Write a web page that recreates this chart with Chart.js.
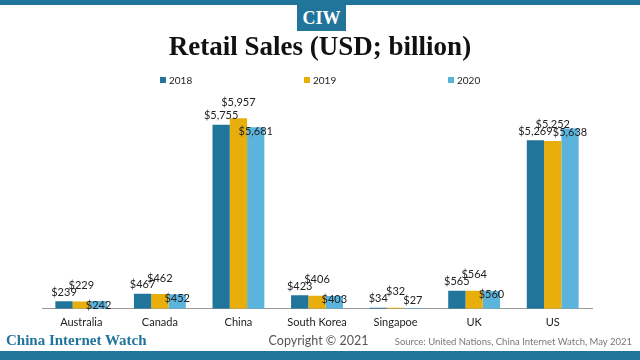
<!DOCTYPE html>
<html>
<head>
<meta charset="utf-8">
<script src="https://cdn.jsdelivr.net/npm/chart.js@4"></script>
<style>
  html, body { margin: 0; padding: 0; background: #fff; }
  #wrap { position: relative; width: 640px; height: 360px; overflow: hidden; }
  #chart { position: absolute; left: 0; top: 0; }
  .topbar { position: absolute; left: 0; top: 0; width: 640px; height: 5px; background: #21759b; }
  .botbar { position: absolute; left: 0; top: 351px; width: 640px; height: 9px; background: #21759b; }
  .logo { position: absolute; left: 297px; top: 5px; width: 49px; height: 26px; background: #21759b;
          color: #fff; font: bold 18px "Liberation Serif", serif; text-align: center; line-height: 27px; }
  .title { position: absolute; left: 0; top: 31px; width: 640px; text-align: center;
           font: bold 27px "Liberation Serif", serif; color: #111; }
  .brand { position: absolute; left: 6px; top: 332px; font: bold 15px "Liberation Serif", serif; color: #21759b; }
  .copy { position: absolute; left: 0; top: 333px; width: 637px; text-align: center; font: 12.5px Lato, sans-serif; color: #555; }
  .src { position: absolute; right: 8px; top: 336px; font: 9.5px Lato, sans-serif; color: #777; }
</style>
</head>
<body>
<div id="wrap">
  <canvas id="chart" width="640" height="360"></canvas>
  <div class="topbar"></div>
  <div class="logo">CIW</div>
  <div class="title">Retail Sales (USD; billion)</div>
  <div class="brand">China Internet Watch</div>
  <div class="copy">Copyright © 2021</div>
  <div class="src">Source: United Nations, China Internet Watch, May 2021</div>
  <div class="botbar"></div>
</div>
<script>
var paises = ["Australia", "Canada", "China", "South Korea", "Singapoe", "UK", "US"];
var anos = ["2018", "2019", "2020"];
var vendas2018 = [239, 467, 5755, 423, 34, 565, 5269];
var vendas2019 = [229, 462, 5957, 406, 32, 564, 5252];
var vendas2020 = [242, 452, 5681, 403, 27, 560, 5638];
var cores = ['#21759b', '#e8ae0c', '#5ab4dc'];

function fmt(v) {
    return '$' + v.toLocaleString('en-US');
}

// labels over the bars, each year placed a bit differently like the original
var rotulos = {
    id: 'rotulos',
    afterDatasetsDraw: function (chart) {
        var ctx = chart.ctx;
        ctx.save();
        ctx.font = '11px Lato, sans-serif';
        ctx.textAlign = 'center';
        ctx.textBaseline = 'middle';
        ctx.fillStyle = '#222';
        var deslocamento = [-9, -16, 4];
        chart.data.datasets.forEach(function (ds, i) {
            chart.getDatasetMeta(i).data.forEach(function (bar, j) {
                var dy = deslocamento[i];
                // 2020 bars that are almost flat: label sits just above
                if (i == 2 && bar.base - bar.y < 4) dy = -7;
                ctx.fillText(fmt(ds.data[j]), bar.x, bar.y + dy);
            });
        });
        ctx.restore();
    }
};

// legend spread out wide, as in the picture
var legenda = {
    id: 'legenda',
    afterDraw: function (chart) {
        var ctx = chart.ctx;
        ctx.save();
        ctx.font = '10px Lato, sans-serif';
        ctx.textBaseline = 'middle';
        ctx.textAlign = 'left';
        chart.data.datasets.forEach(function (ds, i) {
            var x = 160 + i * 144;
            ctx.fillStyle = ds.backgroundColor;
            ctx.fillRect(x, 77, 6, 6);
            ctx.fillStyle = '#222';
            ctx.fillText(ds.label, x + 9, 80.5);
        });
        ctx.restore();
    }
};

var ctx = document.getElementById('chart').getContext('2d');

var chart = new Chart(ctx, {
    type: 'bar',
    data: {
        labels: paises,
        datasets: [
            { label: anos[0], data: vendas2018, backgroundColor: cores[0] },
            { label: anos[1], data: vendas2019, backgroundColor: cores[1] },
            { label: anos[2], data: vendas2020, backgroundColor: cores[2] }
        ]
    },
    options: {
        responsive: false,
        animation: false,
        layout: { padding: { left: 42, right: 48, top: 101, bottom: 24 } },
        plugins: {
            legend: { display: false },
            tooltip: { enabled: false }
        },
        datasets: {
            bar: { categoryPercentage: 0.66, barPercentage: 1.0 }
        },
        scales: {
            x: {
                grid: { display: false, drawTicks: false },
                border: { color: '#999', width: 1 },
                ticks: { color: '#222', font: { family: 'Lato', size: 11 }, padding: 7 }
            },
            y: {
                display: false,
                min: 0,
                max: 6500
            }
        }
    },
    plugins: [rotulos, legenda]
});
</script>
</body>
</html>
